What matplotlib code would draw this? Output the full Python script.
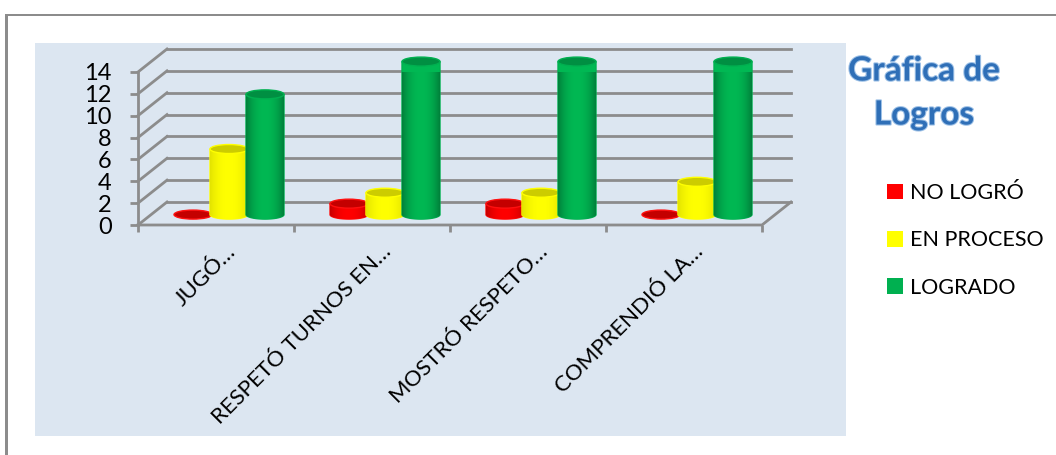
# -*- coding: utf-8 -*-
import matplotlib
matplotlib.use("Agg")
import matplotlib.pyplot as plt
import matplotlib.patheffects as pe
import numpy as np
from matplotlib.patches import Ellipse, Patch, PathPatch, Rectangle
from matplotlib.path import Path

plt.rcParams["font.family"] = ["Lato", "DejaVu Sans"]

categories = ["JUGÓ…", "RESPETÓ TURNOS EN…", "MOSTRÓ RESPETO…", "COMPRENDIÓ LA…"]
series_names = ["NO LOGRÓ", "EN PROCESO", "LOGRADO"]
no_logro = [0, 1, 1, 0]
en_proceso = [6, 2, 2, 3]
logrado = [11, 14, 14, 14]
y_ticks = [0, 2, 4, 6, 8, 10, 12, 14]

W, H = 1056, 455
GRID = "#8c8c8c"
# colores: centro, borde oscuro, tapa, contorno
STYLES = [("#ff0000", "#c80000", "#c40000", "#ff1010"),
          ("#ffff00", "#e4e400", "#cccc00", "#ffff00"),
          ("#00b853", "#00813b", "#008f42", "#00b050")]
LEGEND_COLORS = ["#ff0000", "#ffff00", "#00b050"]

fig = plt.figure(figsize=(W / 100, H / 100), dpi=100, facecolor="white")


def fig_box(x0, y0, x1, y1):
    """Caja en píxeles de la imagen (y hacia abajo) a fracción de figura"""
    return [x0 / W, 1 - y1 / H, (x1 - x0) / W, (y1 - y0) / H]


# marco gris y panel celeste
for x0, y0, x1, y1, color in [(5, 14, 8, H, GRID), (5, 14, W, 16, GRID),
                              (35, 43, 846, 436, "#dce6f1")]:
    b = fig_box(x0, y0, x1, y1)
    fig.add_artist(Rectangle((b[0], b[1]), b[2], b[3], transform=fig.transFigure,
                             color=color, lw=0, zorder=-1))

ax = fig.add_axes(fig_box(138, 72, 762, 225))
ax.patch.set_alpha(0)
ax.set_xlim(-0.5, 3.5)
ax.set_ylim(0, 14)
for s in ax.spines.values():
    s.set_visible(False)

# escala del plano 3D: desplazamiento de profundidad en unidades de datos
DX = 29 / 156
DY = 23 / (153 / 14)
lw = 2.0

for v in y_ticks:
    ax.plot([-0.5 + DX, 3.5 + DX], [v + DY, v + DY], color=GRID, lw=lw, clip_on=False, zorder=1)
    ax.plot([-0.5, -0.5 + DX], [v, v + DY], color=GRID, lw=lw, clip_on=False, zorder=1)
ax.plot([-0.5, -0.5], [0, 14], color=GRID, lw=lw, clip_on=False, zorder=1)
ax.plot([-0.5, 3.5, 3.5 + DX], [0, 0, DY], color=GRID, lw=lw, clip_on=False, zorder=1)

ax.set_yticks(y_ticks)
ax.tick_params(axis="y", length=6, width=lw, color=GRID, pad=13, labelsize=17, labelcolor="black")
ax.set_xticks(np.arange(-0.5, 4, 1))
ax.set_xticklabels([])
ax.tick_params(axis="x", which="major", length=5, width=lw, color=GRID)
ax.set_xticks(np.arange(len(categories)) + 0.06, categories, minor=True)
ax.tick_params(axis="x", which="minor", length=0, pad=12, labelsize=16, labelcolor="black")
for lbl in ax.get_xticklabels(minor=True):
    lbl.set_rotation(45)
    lbl.set_ha("right")
    lbl.set_rotation_mode("anchor")

# cilindros
bar_w = 38 / 156
step = 36 / 156
ell_h = 9 / (153 / 14)
base = DY / 2 - 0.1


def cylinder(xc, value, style, z):
    center, dark, cap, edge = style
    top = base + value
    x0, x1 = xc - bar_w / 2, xc + bar_w / 2
    if value > 0:
        t = np.linspace(np.pi, 2 * np.pi, 40)
        low = np.column_stack([xc + bar_w / 2 * np.cos(t), base + ell_h / 2 * np.sin(t)])
        verts = np.vstack([low, [[x1, top], [x0, top], [x0, base]]])
        codes = [Path.MOVETO] + [Path.LINETO] * (len(verts) - 2) + [Path.CLOSEPOLY]
        body = PathPatch(Path(verts, codes), fc=center, ec=edge, lw=1.0, zorder=z, clip_on=False)
        ax.add_patch(body)
        rgb_c = np.array(matplotlib.colors.to_rgb(center))
        rgb_d = np.array(matplotlib.colors.to_rgb(dark))
        u = np.linspace(-1, 1, 64)
        k = np.clip(np.abs(u) ** 2.2, 0, 1)[None, :, None]
        img = rgb_c[None, None, :] * (1 - k) + rgb_d[None, None, :] * k
        im = ax.imshow(img, extent=(x0, x1, base - ell_h / 2, top), aspect="auto",
                       zorder=z + 0.1, interpolation="bilinear", clip_on=True)
        im.set_clip_path(body)
    ax.add_patch(Ellipse((xc, top), bar_w, ell_h, fc=cap, ec=edge, lw=1.0,
                         zorder=z + 0.2, clip_on=False))


for i in range(len(categories)):
    for k, vals in enumerate([no_logro, en_proceso, logrado]):
        cylinder(i + 13 / 156 + (k - 1) * step, vals[i], STYLES[k], 3 + k + i * 3)
ax.set_xlim(-0.5, 3.5)
ax.set_ylim(0, 14)

# título
for txt, y in [("Gráfica de", 71), ("Logros", 115)]:
    fig.text(924 / W, 1 - y / H, txt, ha="center", va="center", fontsize=24, fontweight="bold",
             color="#2f6fb7",
             path_effects=[pe.withStroke(linewidth=1.5, foreground="#9cc0e6")])

handles = [Patch(fc=c, ec=c, lw=0) for c in LEGEND_COLORS]
fig.legend(handles, series_names, loc="upper left", bbox_to_anchor=(887 / W, 1 - 183 / H),
           bbox_transform=fig.transFigure, frameon=False, fontsize=15.5, handlelength=0.75,
           handleheight=0.75, handletextpad=0.3, labelspacing=1.27, borderpad=0, borderaxespad=0)

fig.savefig("out.png", dpi=100)
